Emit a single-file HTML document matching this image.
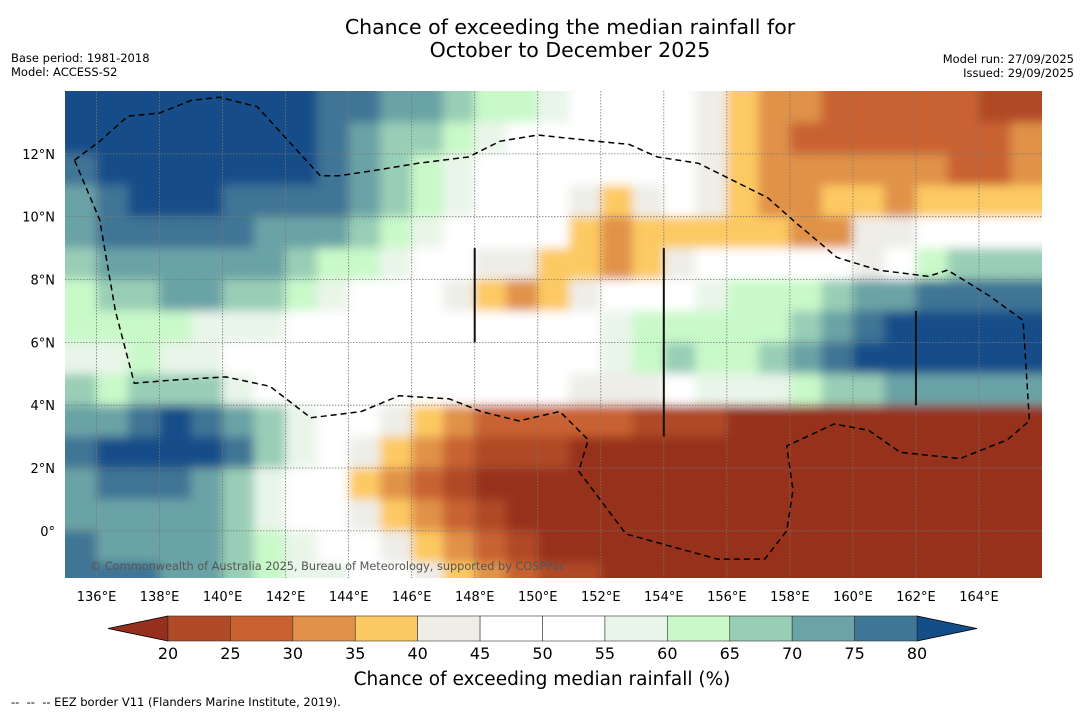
<!DOCTYPE html>
<html><head><meta charset="utf-8"><style>
html,body{margin:0;padding:0;background:#fff;}
svg{display:block;font-family:"DejaVu Sans","Liberation Sans",sans-serif;}
</style></head><body>
<svg id="chart" width="1085" height="713" viewBox="0 0 1085 713">
<text x="570" y="34" font-size="20.5" text-anchor="middle">Chance of exceeding the median rainfall for</text>
<text x="570" y="57" font-size="20.5" text-anchor="middle">October to December 2025</text>
<text x="11" y="62" font-size="11.5">Base period: 1981-2018</text>
<text x="11" y="76" font-size="11.5">Model: ACCESS-S2</text>
<text x="1074" y="63" font-size="11.5" text-anchor="end">Model run: 27/09/2025</text>
<text x="1074" y="77" font-size="11.5" text-anchor="end">Issued: 29/09/2025</text>
<defs>
<clipPath id="mapclip"><rect x="65" y="91" width="977" height="487"/></clipPath>
<filter id="soft" x="0" y="0" width="1" height="1"><feGaussianBlur stdDeviation="5" edgeMode="duplicate"/></filter>
</defs>
<g clip-path="url(#mapclip)"><g id="map" filter="url(#soft)"></g></g>
<g id="overlay" clip-path="url(#mapclip)"></g>
<text x="90" y="570" font-size="11.3" fill="#555">© Commonwealth of Australia 2025, Bureau of Meteorology, supported by COSPPac</text>
<g id="axes"></g>
<g id="cbar"></g>
<text x="542" y="685" font-size="18.5" text-anchor="middle">Chance of exceeding median rainfall (%)</text>
<text x="11" y="706" font-size="11.5" xml:space="preserve">--  --  -- EEZ border V11 (Flanders Marine Institute, 2019).</text>
</svg>
<script>
const lonStart = 135, lonEnd = 166, latTop = 14, latBottom = -1.5;
const rowLats = [13.5,12.5,11.5,10.5,9.5,8.5,7.5,6.5,5.5,4.5,3.5,2.5,1.5,0.5,-0.5,-1.5];
const grid = [
[85,85,85,85,85,85,85,85,78,78,72,72,67,62,62,57,50,50,50,50,42,37,32,32,27,27,27,27,27,22,22],
[85,85,85,85,85,85,85,85,78,72,67,67,62,57,50,50,50,50,50,50,42,37,32,27,27,27,27,27,27,27,32],
[78,85,85,85,85,85,85,85,78,72,67,62,57,50,50,50,50,50,50,50,42,37,32,32,32,32,32,32,27,27,32],
[72,78,85,85,85,78,78,78,78,72,67,62,57,50,50,50,42,37,42,50,42,37,32,32,37,37,32,37,37,37,37],
[72,78,78,78,78,78,72,72,72,67,62,57,50,50,50,50,37,32,37,37,37,37,37,32,32,42,42,50,50,50,50],
[67,72,72,72,72,72,72,67,62,62,57,50,50,42,42,37,37,32,37,42,50,50,50,50,50,42,50,62,67,67,67],
[62,67,67,72,72,67,67,62,57,50,50,50,42,37,32,37,42,50,50,50,57,62,62,62,67,72,72,78,78,78,78],
[62,62,62,62,57,57,57,50,50,50,50,50,50,50,50,50,50,57,62,62,62,62,62,67,72,78,85,85,85,85,85],
[57,57,62,57,57,50,50,50,50,50,50,50,50,50,50,50,50,57,62,67,62,62,67,72,78,85,85,85,85,85,85],
[67,62,67,67,67,57,50,50,50,50,50,50,50,50,50,50,42,42,42,50,57,57,57,62,67,67,72,72,72,72,72],
[72,72,78,85,78,72,67,57,50,50,42,37,32,27,27,27,27,27,22,22,22,15,15,15,15,15,15,15,15,15,15],
[78,85,85,85,85,78,67,57,50,42,37,32,27,22,22,22,15,15,15,15,15,15,15,15,15,15,15,15,15,15,15],
[72,78,78,78,72,67,57,50,50,37,32,27,22,15,15,15,15,15,15,15,15,15,15,15,15,15,15,15,15,15,15],
[72,72,72,72,72,67,57,50,50,42,37,32,27,22,15,15,15,15,15,15,15,15,15,15,15,15,15,15,15,15,15],
[78,72,72,72,72,67,62,57,50,50,42,37,32,27,22,15,15,15,15,15,15,15,15,15,15,15,15,15,15,15,15],
[78,78,78,72,72,67,62,57,57,50,50,42,37,32,27,22,22,15,15,15,15,15,15,15,15,15,15,15,15,15,15]
];
const levels = [20,25,30,35,40,45,50,55,60,65,70,75,80];
const colors = ["#96301e","#b04a27","#c96230","#e0924a","#fdc962","#eeede8","#ffffff","#ffffff","#e9f5e9","#c9f9c9","#99ceb6","#6ba3a6","#3f7595","#144e89"];
const lonTicks = [136,138,140,142,144,146,148,150,152,154,156,158,160,162,164];
const latTicks = [0,2,4,6,8,10,12];
const eezLonLat = [[135.3,11.8],[136.1,12.4],[137.0,13.2],[138.0,13.3],[139.0,13.7],[139.9,13.8],[141.1,13.5],[142.1,12.4],[143.1,11.3],[143.7,11.3],[145.0,11.5],[146.2,11.7],[147.8,11.9],[148.8,12.4],[150.0,12.6],[151.9,12.4],[152.9,12.3],[153.8,11.9],[155.1,11.7],[156.3,11.1],[157.3,10.6],[158.2,9.8],[159.5,8.7],[160.8,8.3],[162.4,8.1],[163.0,8.3],[164.3,7.5],[165.4,6.7],[165.6,3.5],[164.9,2.9],[163.4,2.3],[161.5,2.5],[160.5,3.2],[159.4,3.4],[157.9,2.7],[158.1,1.3],[157.9,0.0],[157.2,-0.9],[155.7,-0.9],[152.8,-0.1],[151.3,1.9],[151.6,2.9],[150.7,3.8],[149.4,3.5],[148.2,3.8],[147.2,4.2],[145.6,4.3],[144.4,3.8],[142.8,3.6],[141.5,4.6],[140.1,4.9],[138.4,4.8],[137.2,4.7],[136.6,7.0],[136.1,9.9],[135.3,11.8]];
const segLon = [148,154,162];
const segTop = [9,9,7];
const segBot = [6,3,4];

const NS = "http://www.w3.org/2000/svg";
const X0 = 65, X1 = 1042, Y0 = 91, Y1 = 578;
const PAD = 25;
function xs(lon){ return X0 + (lon - lonStart) * (X1 - X0) / (lonEnd - lonStart); }
function ys(lat){ return Y0 + (latTop - lat) * (Y1 - Y0) / (latTop - latBottom); }
function colorFor(v){ let i=0; while(i<levels.length && v>=levels[i]) i++; return colors[i]; }
function mk(tag, attrs, parent){ const e=document.createElementNS(NS,tag); for(const k in attrs) e.setAttribute(k,attrs[k]); parent.appendChild(e); return e; }

const map = document.getElementById("map");
const nRows = rowLats.length;
rowLats.forEach((lat, r) => {
  const nCols = grid[r].length;
  grid[r].forEach((v, c) => {
    const lon = lonStart + c;
    let x = xs(lon), y = ys(lat + 0.5);
    let w = xs(lon+1)-x+0.6, h = ys(lat-0.5)-y+0.6;
    if (c === 0) { x -= PAD; w += PAD; }
    if (c === nCols-1) { w += PAD; }
    if (r === 0) { y -= PAD; h += PAD; }
    if (r === nRows-1) { h += PAD; }
    const rect = mk("rect", {x:x, y:y, width:w, height:h, fill:colorFor(v)}, map);
    
    
  });
});
const ov = document.getElementById("overlay");
lonTicks.forEach(l => {
  const g = mk("line",{x1:xs(l),x2:xs(l),y1:Y0,y2:Y1,stroke:"#777","stroke-width":0.8,"stroke-dasharray":"1.5,1.5"},ov);
  
  
});
latTicks.forEach(l => {
  const g = mk("line",{x1:X0,x2:X1,y1:ys(l),y2:ys(l),stroke:"#777","stroke-width":0.8,"stroke-dasharray":"1.5,1.5"},ov);
  
  
});
const eez = mk("path",{d:"M"+eezLonLat.map(p=>xs(p[0]).toFixed(1)+","+ys(p[1]).toFixed(1)).join(" L"),fill:"none",stroke:"#000","stroke-width":1.5,"stroke-dasharray":"6,4"},ov);


segLon.forEach((l,i)=>{
  const s = mk("line",{x1:xs(l),x2:xs(l),y1:ys(segTop[i]),y2:ys(segBot[i]),stroke:"#111","stroke-width":2},ov);
  
  
});
const axes = document.getElementById("axes");
lonTicks.forEach(l => {
  const t = mk("text",{x:xs(l),y:601,"font-size":13,"text-anchor":"middle"},axes);
  t.textContent = l+"°E";
  
  
});
latTicks.forEach(l => {
  const t = mk("text",{x:55,y:ys(l)+5,"font-size":13,"text-anchor":"end"},axes);
  t.textContent = l===0 ? "0°" : l+"°N";
  
  
});
const cb = document.getElementById("cbar");
const CB0 = 168, CB1 = 917, CBy = 616, CBh = 25, triW = 60;
const bw = (CB1-CB0)/(levels.length-1);
const lt = mk("polygon",{points:`${CB0-triW},${CBy+CBh/2} ${CB0},${CBy} ${CB0},${CBy+CBh}`,fill:colors[0],stroke:"#000","stroke-width":0.8},cb);


const rt = mk("polygon",{points:`${CB1+triW},${CBy+CBh/2} ${CB1},${CBy} ${CB1},${CBy+CBh}`,fill:colors[colors.length-1],stroke:"#000","stroke-width":0.8},cb);


for(let i=0;i<levels.length-1;i++){
  const r = mk("rect",{x:CB0+i*bw,y:CBy,width:bw,height:CBh,fill:colors[i+1],stroke:"#333","stroke-width":0.6},cb);
  
  
}
levels.forEach((lv,i)=>{
  const t = mk("text",{x:CB0+i*bw,y:659,"font-size":16,"text-anchor":"middle"},cb);
  t.textContent = lv;
  
  
});
</script>
</body></html>
